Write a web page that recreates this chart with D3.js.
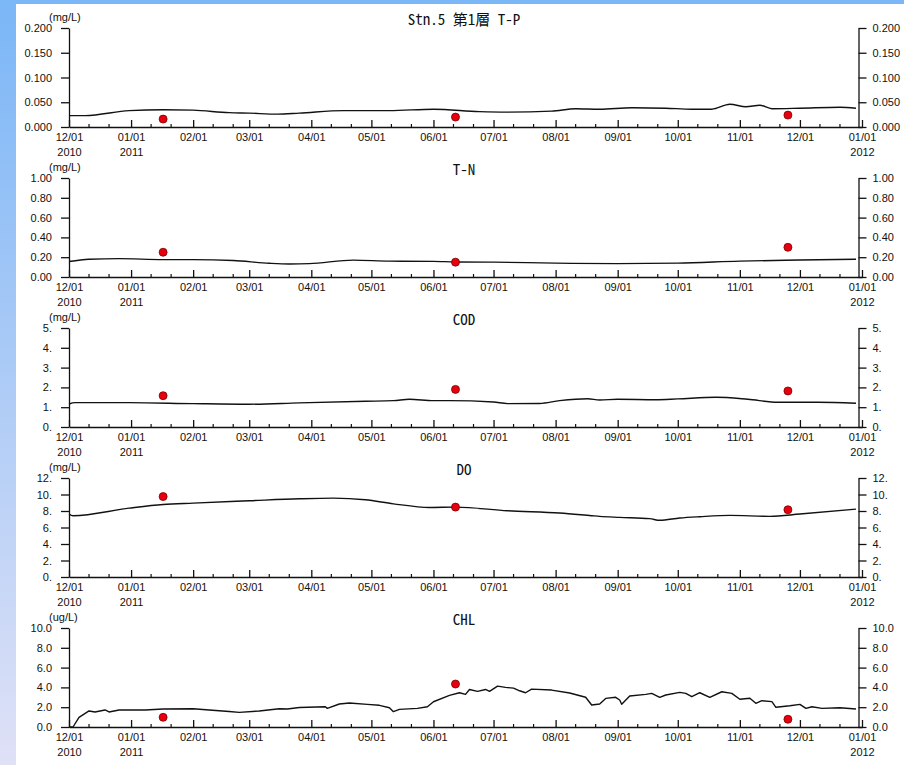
<!DOCTYPE html>
<html>
<head>
<meta charset="utf-8">
<script src="https://cdn.jsdelivr.net/npm/d3@7"></script>
<style>
  html, body { margin: 0; padding: 0; }
  body { width: 904px; height: 765px; overflow: hidden; }
  svg { display: block; }
</style>
</head>
<body>
<svg id="chart" width="904" height="765"></svg>
<script>
// ---- Data -------------------------------------------------------------
const panelKeys   = ["tp", "tn", "cod", "do", "chl"];
const panelTitles = ["Stn.5 第1層 T-P", "T-N", "COD", "DO", "CHL"];
const panelUnits  = ["(mg/L)", "(mg/L)", "(mg/L)", "(mg/L)", "(ug/L)"];
const panelMax    = [0.2, 1.0, 5, 12, 10];

const tpTicks  = [0, 0.05, 0.10, 0.15, 0.20];
const tpTickLabels  = ["0.000", "0.050", "0.100", "0.150", "0.200"];
const tnTicks  = [0, 0.2, 0.4, 0.6, 0.8, 1.0];
const tnTickLabels  = ["0.00", "0.20", "0.40", "0.60", "0.80", "1.00"];
const codTicks = [0, 1, 2, 3, 4, 5];
const codTickLabels = ["0.", "1.", "2.", "3.", "4.", "5."];
const doTicks  = [0, 2, 4, 6, 8, 10, 12];
const doTickLabels  = ["0.", "2.", "4.", "6.", "8.", "10.", "12."];
const chlTicks = [0, 2, 4, 6, 8, 10];
const chlTickLabels = ["0.0", "2.0", "4.0", "6.0", "8.0", "10.0"];

const monthLabels = ["12/01", "01/01", "02/01", "03/01", "04/01", "05/01", "06/01",
                     "07/01", "08/01", "09/01", "10/01", "11/01", "12/01", "01/01"];
const yearLabels  = ["2010", "2011", "", "", "", "", "", "", "", "", "", "", "", "2012"];

// observed (sampled) values
const sampleDates = ["2011-01-17", "2011-06-12", "2011-11-25"];
const tpSamples  = [0.016, 0.020, 0.024];
const tnSamples  = [0.25, 0.15, 0.30];
const codSamples = [1.58, 1.90, 1.82];
const doSamples  = [9.75, 8.47, 8.15];
const chlSamples = [0.98, 4.34, 0.78];

// simulated series
const tpSeries = [
  ["2010-12-01", 0.023], ["2010-12-09", 0.023], ["2010-12-31", 0.033], ["2011-01-17", 0.035],
  ["2011-02-01", 0.034], ["2011-02-19", 0.029], ["2011-03-01", 0.028], ["2011-03-15", 0.026],
  ["2011-03-26", 0.028], ["2011-04-17", 0.033], ["2011-05-10", 0.033], ["2011-06-01", 0.036],
  ["2011-06-24", 0.031], ["2011-07-08", 0.030], ["2011-07-30", 0.032], ["2011-08-11", 0.037],
  ["2011-08-23", 0.036], ["2011-09-08", 0.039], ["2011-09-25", 0.038], ["2011-10-08", 0.036],
  ["2011-10-18", 0.036], ["2011-10-27", 0.046], ["2011-11-04", 0.041], ["2011-11-11", 0.044],
  ["2011-11-17", 0.037], ["2011-12-01", 0.038], ["2011-12-21", 0.040], ["2011-12-29", 0.038]
];
const tnSeries = [
  ["2010-12-01", 0.156], ["2010-12-11", 0.180], ["2010-12-26", 0.186], ["2011-01-17", 0.176],
  ["2011-02-01", 0.176], ["2011-02-21", 0.166], ["2011-03-11", 0.139], ["2011-03-21", 0.132],
  ["2011-03-31", 0.135], ["2011-04-22", 0.170], ["2011-05-10", 0.160], ["2011-06-01", 0.158],
  ["2011-06-12", 0.152], ["2011-07-01", 0.150], ["2011-08-01", 0.140], ["2011-09-01", 0.135],
  ["2011-10-01", 0.140], ["2011-11-01", 0.160], ["2011-12-01", 0.172], ["2011-12-29", 0.180]
];
const codSeries = [
  ["2010-12-01", 1.16], ["2010-12-04", 1.23], ["2010-12-31", 1.23], ["2011-02-01", 1.18],
  ["2011-03-01", 1.15], ["2011-03-26", 1.22], ["2011-04-28", 1.30], ["2011-05-12", 1.33],
  ["2011-05-20", 1.40], ["2011-06-01", 1.33], ["2011-06-09", 1.33], ["2011-07-01", 1.26],
  ["2011-07-08", 1.18], ["2011-07-24", 1.19], ["2011-08-03", 1.33], ["2011-08-17", 1.43],
  ["2011-08-23", 1.36], ["2011-09-01", 1.40], ["2011-09-20", 1.38], ["2011-10-01", 1.42],
  ["2011-10-20", 1.50], ["2011-11-05", 1.40], ["2011-11-20", 1.25], ["2011-12-10", 1.25],
  ["2011-12-29", 1.20]
];
const doSeries = [
  ["2010-12-01", 7.63], ["2010-12-03", 7.43], ["2010-12-31", 8.35], ["2011-01-17", 8.79],
  ["2011-02-01", 8.96], ["2011-03-01", 9.24], ["2011-03-26", 9.48], ["2011-04-12", 9.56],
  ["2011-04-28", 9.36], ["2011-05-12", 8.87], ["2011-05-30", 8.43], ["2011-06-12", 8.47],
  ["2011-07-08", 8.03], ["2011-08-03", 7.75], ["2011-08-19", 7.43], ["2011-08-23", 7.35],
  ["2011-09-02", 7.23], ["2011-09-17", 7.07], ["2011-09-22", 6.87], ["2011-10-02", 7.15],
  ["2011-10-12", 7.31], ["2011-10-27", 7.47], ["2011-11-16", 7.35], ["2011-12-01", 7.63],
  ["2011-12-29", 8.23]
];
const chlSeries = [
  ["2010-12-01", 0.00], ["2010-12-03", 0.00], ["2010-12-06", 0.98], ["2010-12-11", 1.62],
  ["2010-12-14", 1.52], ["2010-12-19", 1.72], ["2010-12-21", 1.52], ["2010-12-26", 1.72],
  ["2011-01-08", 1.72], ["2011-01-17", 1.82], ["2011-02-01", 1.85], ["2011-02-09", 1.72],
  ["2011-02-19", 1.57], ["2011-02-24", 1.48], ["2011-03-06", 1.62], ["2011-03-16", 1.85],
  ["2011-03-20", 1.82], ["2011-03-26", 1.97], ["2011-04-08", 2.05], ["2011-04-09", 1.88],
  ["2011-04-15", 2.32], ["2011-04-20", 2.42], ["2011-04-29", 2.29], ["2011-05-05", 2.19],
  ["2011-05-10", 1.95], ["2011-05-12", 1.55], ["2011-05-15", 1.78], ["2011-05-24", 1.88],
  ["2011-05-29", 2.05], ["2011-06-01", 2.55], ["2011-06-09", 3.20], ["2011-06-14", 3.46],
  ["2011-06-17", 3.30], ["2011-06-19", 3.79], ["2011-06-23", 3.60], ["2011-06-27", 3.79],
  ["2011-06-29", 3.60], ["2011-07-03", 4.13], ["2011-07-07", 4.00], ["2011-07-11", 3.93],
  ["2011-07-14", 3.66], ["2011-07-17", 3.46], ["2011-07-20", 3.83], ["2011-07-30", 3.73],
  ["2011-08-08", 3.43], ["2011-08-16", 3.00], ["2011-08-19", 2.22], ["2011-08-23", 2.32],
  ["2011-08-26", 2.89], ["2011-08-31", 3.00], ["2011-09-02", 2.73], ["2011-09-03", 2.29],
  ["2011-09-07", 3.13], ["2011-09-15", 3.30], ["2011-09-18", 3.40], ["2011-09-22", 3.00],
  ["2011-09-25", 3.23], ["2011-10-02", 3.50], ["2011-10-05", 3.40], ["2011-10-08", 3.06],
  ["2011-10-12", 3.46], ["2011-10-17", 3.00], ["2011-10-23", 3.56], ["2011-10-28", 3.40],
  ["2011-11-01", 2.80], ["2011-11-06", 2.90], ["2011-11-09", 2.39], ["2011-11-12", 2.66],
  ["2011-11-17", 2.56], ["2011-11-19", 1.99], ["2011-11-26", 2.15], ["2011-12-01", 2.29],
  ["2011-12-04", 1.88], ["2011-12-07", 2.05], ["2011-12-12", 1.88], ["2011-12-21", 1.95],
  ["2011-12-29", 1.82]
];

const panelTicks      = [tpTicks, tnTicks, codTicks, doTicks, chlTicks];
const panelTickLabels = [tpTickLabels, tnTickLabels, codTickLabels, doTickLabels, chlTickLabels];
const panelSeries     = [tpSeries, tnSeries, codSeries, doSeries, chlSeries];
const panelSamples    = [tpSamples, tnSamples, codSamples, doSamples, chlSamples];
const panelCurves     = [d3.curveMonotoneX, d3.curveMonotoneX, d3.curveMonotoneX, d3.curveMonotoneX, d3.curveLinear];

// ---- Layout -----------------------------------------------------------
const W = 904, H = 765;
const plotLeft = 69, axisEnd = 862, rightAxisX = 858.5;
const firstTop = 28, panelStep = 150, panelH = 99;
const labelFont = "'Liberation Sans', Arial, Helvetica, sans-serif";
const titleFont = "'Noto Sans Mono CJK JP', 'Noto Sans CJK JP', sans-serif";

const parse = d3.utcParse("%Y-%m-%d");
const startDate = parse("2010-12-01"), endDate = parse("2012-01-01");

const svg = d3.select("#chart");

// page background and white sheet
const defs = svg.append("defs");
const grad = defs.append("linearGradient").attr("id", "bg").attr("x1", 0).attr("y1", 0).attr("x2", 0).attr("y2", 1);
grad.append("stop").attr("offset", "0%").attr("stop-color", "#7bb6f6");
grad.append("stop").attr("offset", "100%").attr("stop-color", "#dfe1f6");
svg.append("rect").attr("width", W).attr("height", H).attr("fill", "url(#bg)");
svg.append("rect").attr("x", 16).attr("y", 4).attr("width", W - 16).attr("height", H - 4).attr("fill", "#fff");

const x = d3.scaleUtc().domain([startDate, endDate]).range([plotLeft, axisEnd]);
const majorTicks = d3.utcMonth.range(startDate, d3.utcDay.offset(endDate, 1));
const minorTicks = d3.utcDay.range(startDate, endDate).filter(d => d.getUTCDate() === 11 || d.getUTCDate() === 21);

panelKeys.forEach((key, i) => {
  const top = firstTop + panelStep * i, bottom = top + panelH;
  const y = d3.scaleLinear().domain([0, panelMax[i]]).range([bottom, top]);
  const g = svg.append("g").attr("class", "panel-" + key);

  // x axis: major ticks at month starts, minor ticks on 11th and 21st
  const xAxis = d3.axisBottom(x).tickValues(majorTicks).tickSizeInner(-7).tickSizeOuter(0)
    .tickPadding(6).tickFormat((d, j) => monthLabels[j]);
  const gx = g.append("g").attr("transform", `translate(0,${bottom})`).call(xAxis);
  gx.selectAll("text").attr("font-family", labelFont).attr("font-size", 11).attr("fill", "#111");
  gx.selectAll("line, path").attr("stroke", "#111").attr("stroke-width", 1.3);
  gx.selectAll(".tick").filter((d, j) => yearLabels[j] !== "").append("text")
    .attr("y", 29).attr("text-anchor", "middle")
    .attr("font-family", labelFont).attr("font-size", 11).attr("fill", "#111")
    .text((d) => yearLabels[majorTicks.findIndex(m => +m === +d)]);
  g.append("g").selectAll("line").data(minorTicks).join("line")
    .attr("x1", d => x(d)).attr("x2", d => x(d))
    .attr("y1", bottom).attr("y2", bottom - 3)
    .attr("stroke", "#111").attr("stroke-width", 1.2);

  // y axes on both sides
  const fmt = (d, j) => panelTickLabels[i][j];
  const yl = g.append("g").attr("transform", `translate(${plotLeft},0)`)
    .call(d3.axisLeft(y).tickValues(panelTicks[i]).tickSizeInner(8).tickSizeOuter(0).tickPadding(9).tickFormat(fmt));
  const yr = g.append("g").attr("transform", `translate(${rightAxisX},0)`)
    .call(d3.axisRight(y).tickValues(panelTicks[i]).tickSizeInner(8).tickSizeOuter(0).tickPadding(6).tickFormat(fmt));
  [yl, yr].forEach(a => {
    a.selectAll("text").attr("font-family", labelFont).attr("font-size", 11).attr("fill", "#111");
    a.selectAll("line, path").attr("stroke", "#111").attr("stroke-width", 1.3);
  });

  // unit and title
  g.append("text").attr("x", 49).attr("y", top - 7)
    .attr("font-family", labelFont).attr("font-size", 11).attr("fill", "#111")
    .text(panelUnits[i]);
  g.append("text").attr("x", 464).attr("y", top - 3).attr("text-anchor", "middle")
    .attr("font-family", titleFont).attr("font-size", 15).attr("fill", "#111")
    .text(panelTitles[i]);

  // simulated line
  const line = d3.line().x(d => x(parse(d[0]))).y(d => y(d[1])).curve(panelCurves[i]);
  g.append("path").datum(panelSeries[i]).attr("d", line)
    .attr("fill", "none").attr("stroke", "#111").attr("stroke-width", 1.4).attr("stroke-linejoin", "round");

  // observations
  g.append("g").selectAll("circle").data(sampleDates).join("circle")
    .attr("cx", d => x(parse(d)))
    .attr("cy", (d, j) => y(panelSamples[i][j]))
    .attr("r", 4)
    .attr("fill", "#e8000e").attr("stroke", "#7a0000").attr("stroke-width", 0.8);
});
</script>
</body>
</html>
